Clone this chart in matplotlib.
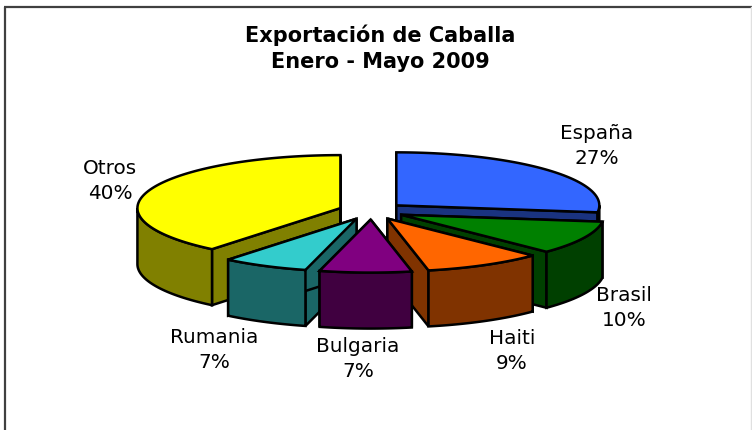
import numpy as np
import matplotlib
matplotlib.use('Agg')
import matplotlib.pyplot as plt
from matplotlib.patches import Polygon

paises = ['España', 'Brasil', 'Haiti', 'Bulgaria', 'Rumania', 'Otros']
etiquetas = ['27%', '10%', '9%', '7%', '7%', '40%']
valores = [27.1, 10.2, 9.45, 7.3, 6.85, 39.1]

colores = ['#3366FF', '#008000', '#FF6600', '#800080', '#33CCCC', '#FFFF00']
oscuros = ['#1A3380', '#004000', '#803300', '#400040', '#1A6666', '#808000']
etiq_pos = [(597, 146), (624, 308), (512, 351), (358, 359), (214, 350), (110, 181)]

# pie geometry in pixels
cx, cy = 371.5, 211
rx, ry = 203, 53
alto = 56
explota = 33

fig = plt.figure(figsize=(7.52, 4.30), dpi=100)
ax = fig.add_axes([0, 0, 1, 1])
ax.set_xlim(0, 752)
ax.set_ylim(430, 0)
ax.axis('off')

# frame: the picture crops it at the bottom and right
ax.plot([4.5, 4.5], [7, 430], color='#404040', linewidth=1.6, solid_capstyle='butt')
ax.plot([4, 752], [7, 7], color='#404040', linewidth=1.6, solid_capstyle='butt')
ax.plot([751, 751], [7, 430], color='#e0e0e0', linewidth=1.0)


def punto(c, ang):
    return c[0] + rx * np.sin(ang), c[1] - ry * np.cos(ang)


def poly(pts, color):
    ax.add_patch(Polygon(pts, closed=True, facecolor=color, edgecolor='black',
                         linewidth=1.8, joinstyle='miter'))


bordes = np.radians(np.concatenate([[0], np.cumsum(valores)]) * 3.6)
medios = (bordes[:-1] + bordes[1:]) / 2
orden = np.argsort(-np.cos(medios))

for i in orden:
    a0, a1 = bordes[i], bordes[i + 1]
    m = medios[i]
    c = (cx + explota * np.sin(m), cy - explota * 0.26 * np.cos(m))

    # radial walls
    for a in (a0, a1):
        x, y = punto(c, a)
        poly([c, (x, y), (x, y + alto), (c[0], c[1] + alto)], oscuros[i])

    # outer rim, only the part facing the viewer
    r0, r1 = max(a0, np.pi / 2), min(a1, 3 * np.pi / 2)
    if r1 > r0:
        t = np.linspace(r0, r1, 60)
        xs, ys = punto(c, t)
        arriba = list(zip(xs, ys))
        abajo = list(zip(xs[::-1], ys[::-1] + alto))
        poly(arriba + abajo, oscuros[i])

    t = np.linspace(a0, a1, 120)
    xs, ys = punto(c, t)
    poly([c] + list(zip(xs, ys)), colores[i])

for nombre, pct, (x, y) in zip(paises, etiquetas, etiq_pos):
    ax.text(x, y, nombre + '\n' + pct, ha='center', va='center', fontsize=14.4,
            color='black', linespacing=1.42)

ax.text(380, 48, 'Exportación de Caballa\nEnero - Mayo 2009', ha='center', va='center',
        fontsize=15, fontweight='bold', color='black', linespacing=1.4)

fig.savefig('out.png', dpi=100)
